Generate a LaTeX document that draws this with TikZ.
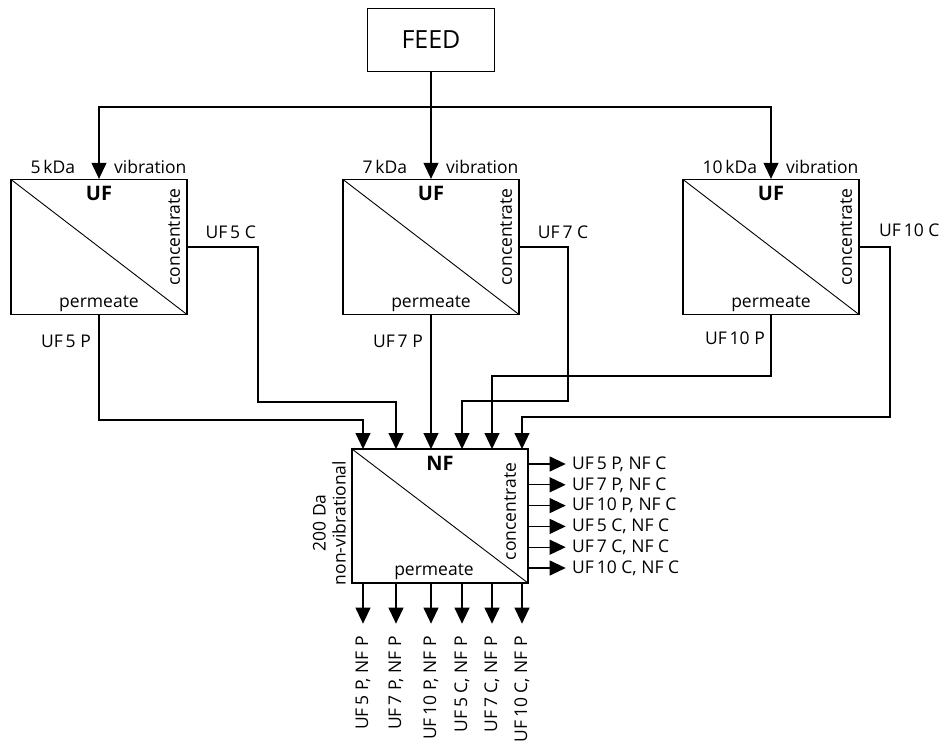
\documentclass[tikz,border=0pt]{standalone}
\usepackage{fontspec}
\setmainfont{Open Sans}
\usetikzlibrary{arrows.meta, positioning, calc}

\begin{document}
\begin{tikzpicture}[
    x=1pt, y=-1pt,
    every node/.style={font=\fontsize{17.5}{20}\selectfont},
    unit/.style={draw, line width=1.3pt, minimum width=176pt, minimum height=135pt, inner sep=0pt,
      path picture={\draw[line width=0.9pt] (path picture bounding box.north west) -- (path picture bounding box.south east);}},
    feedbox/.style={draw, line width=1.3pt, minimum width=127pt, minimum height=63pt, font=\fontsize{25}{28}\selectfont},
    title/.style={font=\fontsize{20}{22}\selectfont\bfseries},
    label/.style={inner sep=2pt},
    flow/.style={line width=1.1pt},
    arrow/.style={flow, -{Triangle[length=16pt, width=15pt]}},
  ]
  \useasboundingbox (0,0) rectangle (941,742);

  % Feed
  \node[feedbox] (feed) at (431,40) {FEED};
  \coordinate (split) at (431,107);

  % UF units
  \node[unit] (uf5) at (99,247) {};
  \node[unit] (uf7) at (431,247) {};
  \node[unit] (uf10) at (771,247) {};

  \foreach \u/\cut in {uf5/5, uf7/7, uf10/10} {
    \node[title, below=4pt of \u.north] (\u title) {UF};
    \node[above=0pt of \u.south] (\u perm) {permeate};
    \node[rotate=90, anchor=south east] (\u conc) at ($(\u.north east)+(-4,6)$) {concentrate};
    \node[label, anchor=south west] (\u cut) at ($(\u.north west)+(18,-3)$) {\cut\,kDa};
    \node[label, anchor=south east] (\u vib) at ($(\u.north east)+(1,-3)$) {vibration};
  }

  % NF unit
  \node[unit, minimum height=134pt] (nf) at (440,516) {};
  \node[title, below=4pt of nf.north] (nftitle) {NF};
  \node[above=0pt of nf.south, xshift=-6pt] (nfperm) {permeate};
  \node[rotate=90, anchor=south east] (nfconc) at ($(nf.north east)+(-9,11)$) {concentrate};
  \node[rotate=90, anchor=south, align=center] (nfinfo) at ($(nf.west)+(-2,7)$) {200 Da\\non-vibrational};

  % NF inlets
  \foreach \i/\x in {1/363, 2/396, 3/431, 4/462, 5/492, 6/522}
    \coordinate (in\i) at (\x,449);

  % Feed lines
  \draw[flow] (feed.south) -- (split);
  \draw[arrow] (split) -| (uf5.north);
  \draw[arrow] (split) -- (uf7.north);
  \draw[arrow] (split) -| (uf10.north);

  % Permeate lines
  \coordinate (p5) at (99,420);
  \coordinate (p10) at (771,376);
  \draw[arrow] (uf5.south) -- (p5) -| (in1);
  \draw[arrow] (uf7.south) -- (in3);
  \draw[arrow] (uf10.south) -- (p10) -| (in5);
  \node[label, anchor=east] (uf5p) at ($(uf5.south)+(-6,26)$) {UF\,5 P};
  \node[label, anchor=east] (uf7p) at ($(uf7.south)+(-6,26)$) {UF\,7 P};
  \node[label, anchor=east] (uf10p) at ($(uf10.south)+(-4,23)$) {UF\,10 P};

  % Concentrate lines
  \coordinate (c5) at (258,402);
  \coordinate (c7) at (568,401);
  \coordinate (c10) at (890,417);
  \draw[arrow] (uf5.east) -| (c5) -| (in2);
  \draw[arrow] (uf7.east) -| (c7) -| (in4);
  \draw[arrow] (uf10.east) -| (c10) -| (in6);
  \node[label, anchor=south east] (uf5c) at ($(uf5.east -| c5)+(0,-6)$) {UF\,5 C};
  \node[label, anchor=south] (uf7c) at ($(uf7.east -| c7)+(-5,-6)$) {UF\,7 C};
  \node[label, anchor=south west] (uf10c) at ($(uf10.east -| c10)+(-13,-8)$) {UF\,10 C};

  % NF concentrate outlets
  \foreach \i/\t in {1/UF\,5 P, 2/UF\,7 P, 3/UF\,10 P, 4/UF\,5 C, 5/UF\,7 C, 6/UF\,10 C}
    \draw[arrow] ($(nf.east |- 0,464)+(0,{(\i-1)*20.8})$) -- ++(37,0)
      node[label, anchor=west, inner xsep=6pt] (outc\i) {\t, NF C};

  % NF permeate outlets
  \foreach \i/\t in {1/UF\,5 P, 2/UF\,7 P, 3/UF\,10 P, 4/UF\,5 C, 5/UF\,7 C, 6/UF\,10 C}
    \draw[arrow] (in\i |- nf.south) -- ++(0,40)
      node[rotate=90, anchor=east, inner xsep=12pt, inner ysep=1pt] (outp\i) {\t, NF P};

\end{tikzpicture}
\end{document}
